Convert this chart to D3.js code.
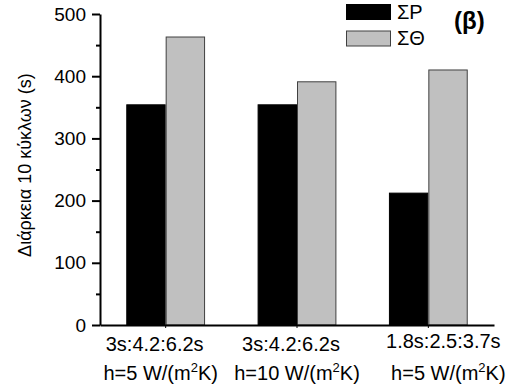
<!DOCTYPE html>
<html>
<head>
<meta charset="utf-8">
<script src="https://cdn.jsdelivr.net/npm/d3@7"></script>
<style>
  body { margin: 0; background: #fff; }
  svg { display: block; }
  svg text { font-family: "Liberation Sans", Arial, sans-serif; }
</style>
</head>
<body>
<div id="chart"></div>
<script>
// categories: cycle timing (line 1) and heat transfer coefficient (line 2)
const cycles = ["3s:4.2:6.2s", "3s:4.2:6.2s", "1.8s:2.5:3.7s"];
const hValues = ["5", "10", "5"];
const seriesNames = ["ΣP", "ΣΘ"];
const sigmaP = [354, 354, 212];
const sigmaTheta = [463, 391, 410];
const yTicks = [0, 100, 200, 300, 400, 500];
const yMinor = [50, 150, 250, 350, 450];

const width = 509, height = 385;
const fills = { "ΣP": "#000000", "ΣΘ": "#c0c0c0" };
const strokes = { "ΣP": "#000000", "ΣΘ": "#404040" };

const svg = d3.select("#chart").append("svg")
  .attr("width", width).attr("height", height);

const x = d3.scaleBand()
  .domain(d3.range(cycles.length))
  .range([100, 494])
  .paddingInner(0.4)
  .paddingOuter(0.2);

const xs = d3.scaleBand()
  .domain(seriesNames)
  .range([0, x.bandwidth()]);

const y = d3.scaleLinear().domain([0, 500]).range([325, 14]);

const rows = cycles.map((c, i) => ({ i, values: [
  { key: "ΣP", v: sigmaP[i] }, { key: "ΣΘ", v: sigmaTheta[i] }
]}));

// bars
const g = svg.selectAll("g.grp").data(rows).join("g")
  .attr("class", "grp")
  .attr("transform", d => `translate(${x(d.i)},0)`);

g.selectAll("rect").data(d => d.values).join("rect")
  .attr("x", d => xs(d.key) + 0.5)
  .attr("y", d => y(d.v))
  .attr("width", xs.bandwidth() - 1)
  .attr("height", d => y(0) - y(d.v))
  .attr("fill", d => fills[d.key])
  .attr("stroke", d => strokes[d.key])
  .attr("stroke-width", 1);

// y axis: major + minor ticks
const yAxis = svg.append("g").attr("transform", "translate(100,0)")
  .call(d3.axisLeft(y).tickValues(yTicks).tickSize(8).tickSizeOuter(0).tickPadding(6));
yAxis.attr("font-family", null).attr("font-size", null);
yAxis.select(".domain").attr("stroke-width", 2);
yAxis.selectAll(".tick line").attr("stroke-width", 2);
yAxis.selectAll(".tick text").attr("font-size", 19).attr("fill", "#000");

const yMinorAxis = svg.append("g").attr("transform", "translate(100,0)")
  .call(d3.axisLeft(y).tickValues(yMinor).tickSize(4).tickFormat(""));
yMinorAxis.select(".domain").remove();
yMinorAxis.selectAll(".tick line").attr("stroke-width", 2);

// x axis
const xAxis = svg.append("g").attr("transform", "translate(0,325)")
  .call(d3.axisBottom(x).tickSize(3).tickSizeOuter(0).tickFormat(""));
xAxis.select(".domain").attr("stroke-width", 2);
xAxis.selectAll(".tick line").attr("stroke-width", 1);

// two-line category labels
const labelShift = [-11, -6, 15];
const labels = svg.append("g").attr("font-size", 20).attr("fill", "#000");
cycles.forEach((c, i) => {
  const cx = x(i) + x.bandwidth() / 2 + labelShift[i];
  const up = i === 2 ? -3 : 0;
  labels.append("text")
    .attr("x", cx).attr("y", 351 + up)
    .attr("text-anchor", "middle")
    .text(c);
  const t = labels.append("text")
    .attr("x", cx + (i === 2 ? 5 : 6)).attr("y", 380)
    .attr("text-anchor", "middle");
  t.append("tspan").text(`h=${hValues[i]} W/(m`);
  t.append("tspan").attr("dy", -8).attr("font-size", 13).text("2");
  t.append("tspan").attr("dy", 8).text("K)");
});

// y title
svg.append("text")
  .attr("transform", "translate(31,165) rotate(-90)")
  .attr("text-anchor", "middle")
  .attr("font-size", 18)
  .text("Διάρκεια 10 κύκλων (s)");

// legend
const legend = svg.append("g");
seriesNames.forEach((s, i) => {
  legend.append("rect")
    .attr("x", 346.5).attr("y", 4.5 + i * 26.5)
    .attr("width", 44).attr("height", 15)
    .attr("fill", fills[s]).attr("stroke", strokes[s]);
  legend.append("text")
    .attr("x", 397).attr("y", 18.5 + i * 26.5)
    .attr("font-size", 20)
    .text(s);
});

svg.append("text")
  .attr("x", 454).attr("y", 29)
  .attr("font-size", 24).attr("font-weight", "bold")
  .text("(β)");
</script>
</body>
</html>
